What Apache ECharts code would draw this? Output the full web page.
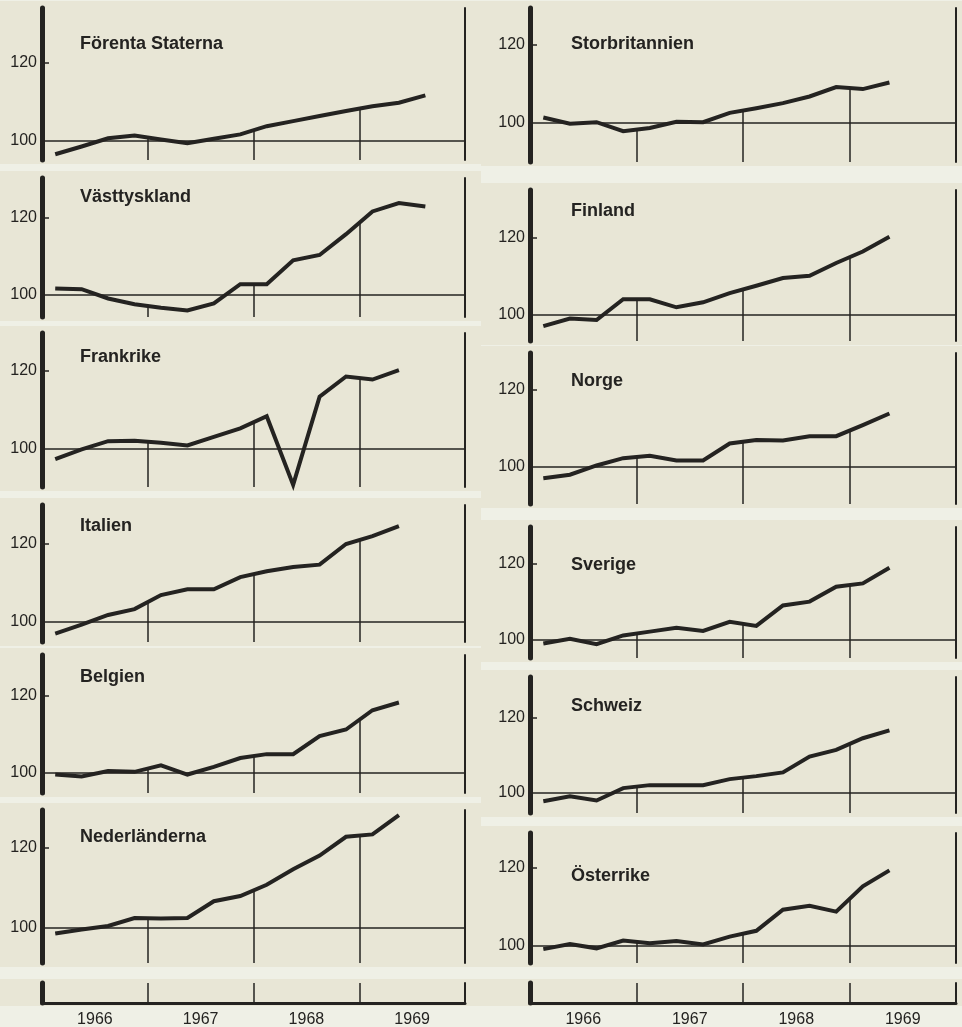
<!DOCTYPE html>
<html>
<head>
<meta charset="utf-8">
<title>Industriproduktion 1966–1969</title>
<script src="https://cdn.jsdelivr.net/npm/echarts@6/dist/echarts.min.js"></script>
<style>
  html, body { margin: 0; padding: 0; background: #eff0e6; }
  #chart { width: 962px; height: 1027px; }
</style>
</head>
<body>
<div id="chart"></div>
<script>
// kvartalsvärden 1966–1969, index
const years = ['1966', '1967', '1968', '1969'];
const yLabels = [100, 120];
const base = 100;

const countries = ['Förenta Staterna', 'Västtyskland', 'Frankrike', 'Italien', 'Belgien', 'Nederländerna',
                   'Storbritannien', 'Finland', 'Norge', 'Sverige', 'Schweiz', 'Österrike'];

const forentaStaterna = [96.6, 98.6, 100.7, 101.4, 100.4, 99.4, 100.6, 101.7, 103.8, 105.1, 106.4, 107.7, 108.9, 109.8, 111.7];
const vasttyskland    = [101.7, 101.5, 99.1, 97.6, 96.7, 96.0, 97.8, 102.8, 102.8, 109.0, 110.4, 115.8, 121.7, 123.9, 123.0];
const frankrike       = [97.4, 99.9, 102.0, 102.1, 101.6, 100.9, 103.1, 105.3, 108.4, 90.8, 113.4, 118.6, 117.8, 120.2];
const italien         = [97.0, 99.3, 101.8, 103.3, 106.9, 108.4, 108.4, 111.5, 113.0, 114.1, 114.7, 120.0, 122.0, 124.6];
const belgien         = [99.6, 99.1, 100.5, 100.3, 102.0, 99.6, 101.6, 103.9, 104.9, 104.9, 109.6, 111.3, 116.3, 118.3];
const nederlanderna   = [98.6, 99.6, 100.5, 102.5, 102.4, 102.5, 106.7, 108.0, 110.8, 114.7, 118.1, 122.8, 123.4, 128.2];
const storbritannien  = [101.4, 99.8, 100.2, 97.9, 98.7, 100.3, 100.2, 102.6, 103.8, 105.1, 106.8, 109.2, 108.7, 110.4];
const finland         = [97.1, 99.1, 98.7, 104.1, 104.1, 102.0, 103.3, 105.7, 107.6, 109.6, 110.2, 113.5, 116.5, 120.3];
const norge           = [97.1, 98.0, 100.4, 102.3, 102.9, 101.7, 101.7, 106.1, 107.0, 106.9, 108.0, 108.0, 110.9, 113.9];
const sverige         = [99.1, 100.3, 98.9, 101.2, 102.2, 103.2, 102.4, 104.8, 103.7, 109.1, 110.1, 114.0, 114.9, 119.0];
const schweiz         = [97.8, 99.1, 98.0, 101.3, 102.1, 102.1, 102.1, 103.7, 104.5, 105.5, 109.7, 111.5, 114.6, 116.7];
const osterrike       = [99.2, 100.5, 99.4, 101.4, 100.7, 101.3, 100.4, 102.4, 103.9, 109.3, 110.3, 108.8, 115.3, 119.4];

const values = [forentaStaterna, vasttyskland, frankrike, italien, belgien, nederlanderna,
                storbritannien, finland, norge, sverige, schweiz, osterrike];

// layout: [kolumn, överkant, underkant, pixel för 120, pixel för 100]
const panels = [
    [0, 8, 160, 63, 141], [0, 178, 317, 218, 295], [0, 333, 487, 371, 449],
    [0, 505, 642, 544, 622], [0, 655, 793, 696, 773], [0, 810, 963, 848, 928],
    [1, 8, 162, 45, 123], [1, 190, 341, 238, 315], [1, 353, 504, 390, 467],
    [1, 527, 658, 564, 640], [1, 677, 813, 718, 793], [1, 833, 963, 868, 946]
];
const cols = [{ left: 42, width: 423, bgX: 0, bgW: 481 }, { left: 530, width: 426, bgX: 481, bgW: 481 }];
const titleY = [45, 198, 358, 527, 678, 838, 45, 212, 382, 566, 707, 877];
const stripTop = 983, stripBottom = 1003;

const ink = '#242321';
const paper = '#e8e6d6';
const font = 'Liberation Sans';

// värde på kurvan vid x (kvartal); punkt i ligger mitt i kvartalet, i + 0.5
function valueAt(v, x) {
    const i = Math.floor(x - 0.5);
    if (i < 0 || i + 1 >= v.length) return null;
    const t = x - 0.5 - i;
    return v[i] + (v[i + 1] - v[i]) * t;
}

const grid = [], xAxis = [], yAxis = [], series = [], title = [], bg = [];

panels.forEach(function (p, i) {
    const c = cols[p[0]];
    const top = p[1], bottom = p[2], y120 = p[3], y100 = p[4];
    const ppu = (y100 - y120) / 20;
    const yMax = base + (y100 - top) / ppu;
    const yMin = base - (bottom - y100) / ppu;

    grid.push({ left: c.left, top: top, width: c.width, height: bottom - top, containLabel: false, outerBoundsMode: 'none' });
    bg.push({ type: 'rect', silent: true, z: -10, shape: { x: c.bgX, y: top - 7, width: c.bgW, height: bottom - top + 11 }, style: { fill: paper } });

    xAxis.push({ gridIndex: i, type: 'value', min: 0, max: 16, show: false });
    yAxis.push({
        gridIndex: i, type: 'value', min: yMin, max: yMax, position: 'left',
        axisLine: { show: true, onZero: false, lineStyle: { color: ink, width: 5 } },
        axisTick: { show: true, inside: true, length: 7, customValues: [120], lineStyle: { color: ink, width: 1.5 } },
        axisLabel: { customValues: yLabels, color: ink, fontSize: 16, fontFamily: font, margin: 5 },
        splitLine: { show: false }
    });
    yAxis.push({
        gridIndex: i, type: 'value', min: yMin, max: yMax, position: 'right',
        axisLine: { show: true, onZero: false, lineStyle: { color: ink, width: 2 } },
        axisTick: { show: false }, axisLabel: { show: false }, splitLine: { show: false }
    });

    const v = values[i];
    const lines = [{ yAxis: base }];
    [4, 8, 12].forEach(function (b) {
        const top = valueAt(v, b);
        if (top !== null) lines.push([{ coord: [b, yMin] }, { coord: [b, top] }]);
    });

    series.push({
        name: countries[i], type: 'line', xAxisIndex: i, yAxisIndex: 2 * i,
        data: v.map(function (d, k) { return [k + 0.5, d]; }),
        symbol: 'none', clip: false,
        lineStyle: { color: ink, width: 4, join: 'miter' },
        markLine: {
            silent: true, symbol: ['none', 'none'], label: { show: false },
            lineStyle: { color: ink, width: 1.5, type: 'solid' },
            data: lines
        }
    });

    title.push({
        text: countries[i], left: c.left + (p[0] ? 41 : 38), top: titleY[i] - 10, padding: 0,
        textStyle: { color: ink, fontSize: 18, fontWeight: 'bold', fontFamily: font }
    });
});

// nedre remsan med årtal under Nederländerna och Österrike
cols.forEach(function (c, k) {
    const gi = grid.length;
    grid.push({ left: c.left, top: stripTop, width: c.width, height: stripBottom - stripTop, containLabel: false, outerBoundsMode: 'none' });
    bg.push({ type: 'rect', silent: true, z: -10, shape: { x: c.bgX, y: stripTop - 4, width: c.bgW, height: stripBottom - stripTop + 7 }, style: { fill: paper } });
    xAxis.push({
        gridIndex: gi, type: 'value', min: 0, max: 16, interval: 4, position: 'bottom',
        axisLine: { show: true, onZero: false, lineStyle: { color: ink, width: 3 } },
        axisTick: { show: false },
        axisLabel: {
            customValues: [2, 6, 10, 14], margin: 9, color: ink, fontSize: 16, fontFamily: font,
            formatter: function (val) { return years[(val - 2) / 4]; }
        },
        splitLine: { show: true, lineStyle: { color: ink, width: 1.5 } }
    });
    yAxis.push({
        gridIndex: gi, type: 'value', min: 0, max: 1, position: 'left',
        axisLine: { show: true, onZero: false, lineStyle: { color: ink, width: 5 } },
        axisTick: { show: false }, axisLabel: { show: false }, splitLine: { show: false }
    });
    yAxis.push({
        gridIndex: gi, type: 'value', min: 0, max: 1, position: 'right',
        axisLine: { show: true, onZero: false, lineStyle: { color: ink, width: 2 } },
        axisTick: { show: false }, axisLabel: { show: false }, splitLine: { show: false }
    });
});

const chart = echarts.init(document.getElementById('chart'));
chart.setOption({
    animation: false,
    backgroundColor: 'transparent',
    title: title,
    grid: grid,
    xAxis: xAxis,
    yAxis: yAxis,
    series: series,
    graphic: { elements: bg }
});
</script>
</body>
</html>
